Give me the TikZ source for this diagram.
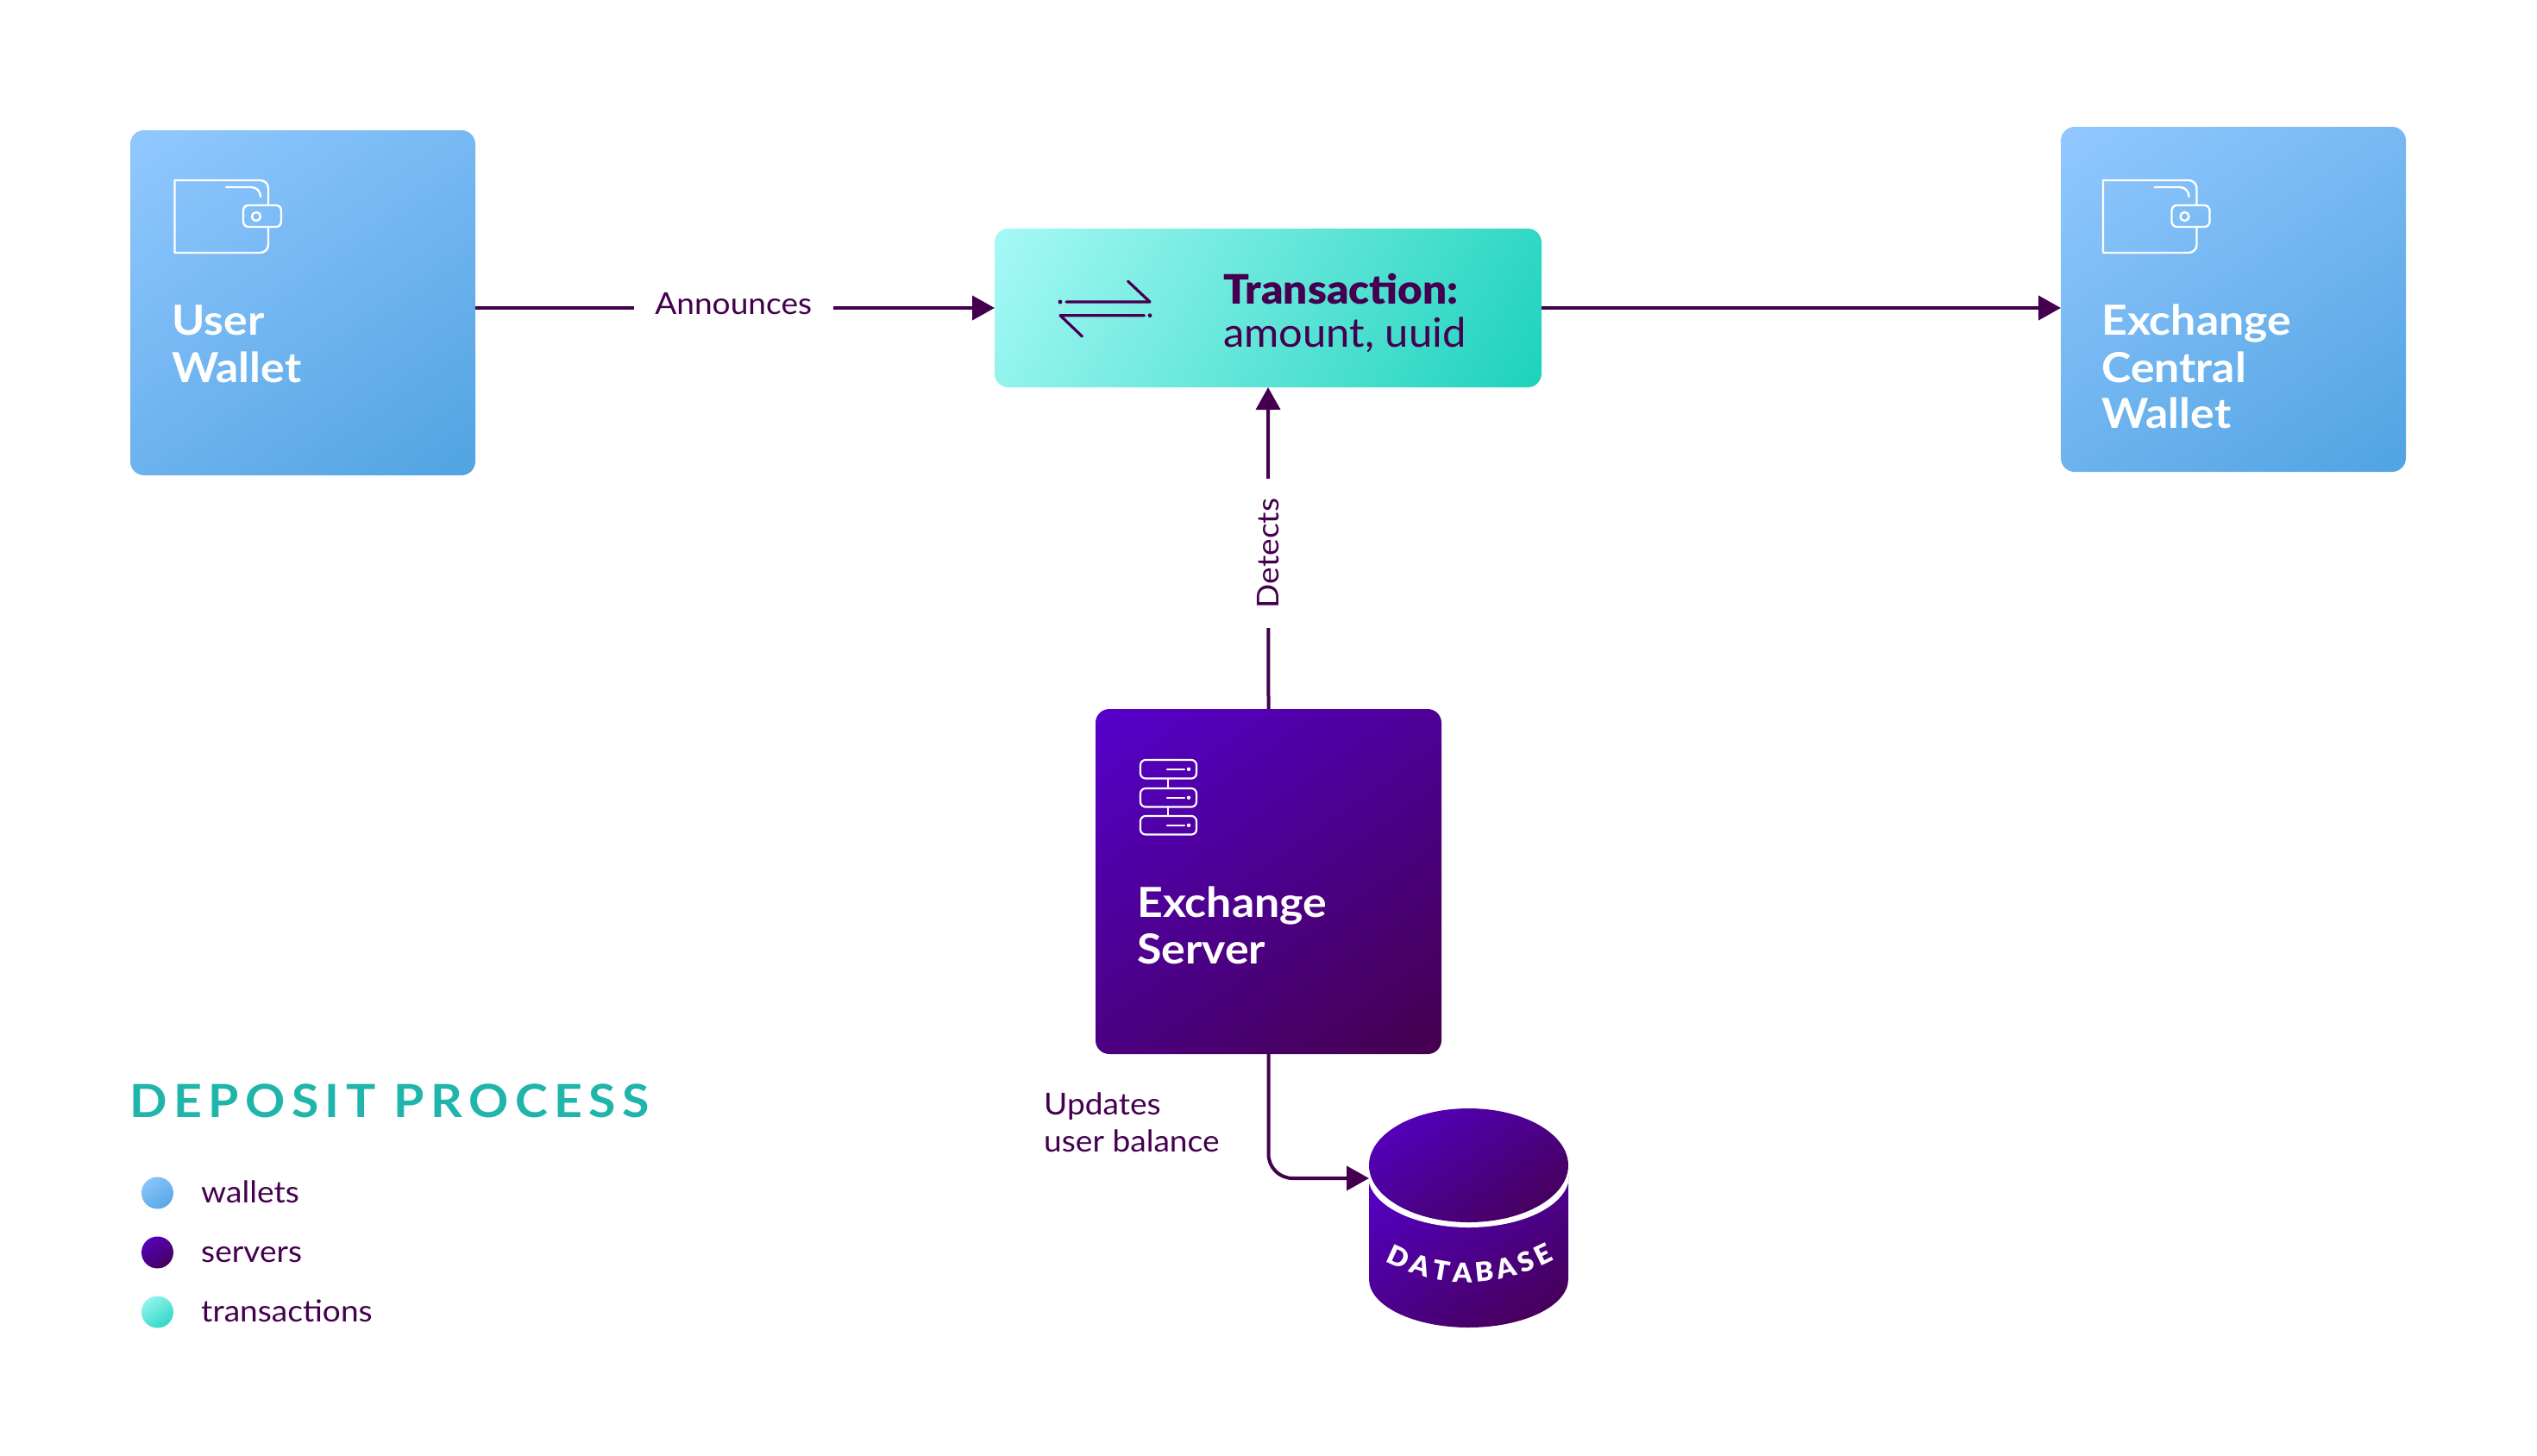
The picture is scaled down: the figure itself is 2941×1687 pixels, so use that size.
\documentclass[tikz,border=0pt]{standalone}
\usepackage{fontspec}
\setmainfont{Lato}
\usetikzlibrary{arrows.meta,decorations.text,calc,shapes.geometric}
\definecolor{ink}{HTML}{44004F}
\definecolor{teal}{HTML}{1FB5AB}
\definecolor{wa}{HTML}{92C8FF}
\definecolor{wb}{HTML}{50A3E2}
\definecolor{ta}{HTML}{A8F9F6}
\definecolor{tb}{HTML}{1BD2BB}
\definecolor{sa}{HTML}{5600CC}
\definecolor{sb}{HTML}{44004C}
\pgfdeclareverticalshading{gwallet}{100bp}{color(0bp)=(wb); color(15bp)=(wb); color(85bp)=(wa); color(100bp)=(wa)}
\pgfdeclareverticalshading{gtx}{100bp}{color(0bp)=(tb); color(15bp)=(tb); color(85bp)=(ta); color(100bp)=(ta)}
\pgfdeclareverticalshading{gsrv}{100bp}{color(0bp)=(sb); color(15bp)=(sb); color(85bp)=(sa); color(100bp)=(sa)}
\newfontfamily\dbfont[LetterSpace=2,FakeStretch=1.03]{Lato Black}
\newfontfamily\rgfont[FakeStretch=1.06]{Lato}
\newfontfamily\amfont[FakeStretch=1.04]{Lato}
\newfontfamily\hdfont[FakeStretch=1.08]{Lato}
\newfontfamily\txfont[FakeStretch=1.05]{Lato Black}
\newfontfamily\ttfont[FakeStretch=1.08,LetterSpace=14]{Lato}
\tikzset{
  box/.style={rectangle,rounded corners=16pt,inner sep=0pt,outer sep=0pt,draw=none},
  walletbox/.style={box,shade,shading=gwallet,shading angle=35,minimum width=400pt,minimum height=400pt},
  srvbox/.style={box,shade,shading=gsrv,shading angle=35,minimum width=401pt,minimum height=400pt},
  txbox/.style={box,shade,shading=gtx,shading angle=60,minimum width=634pt,minimum height=184pt},
  head/.style={inner sep=0pt,anchor=base west,align=left,font=\fontsize{48}{54}\hdfont\bfseries},
  lbl/.style={inner sep=0pt,text=ink,font=\fontsize{35}{43}\rgfont},
  conn/.style={draw=ink,line width=4pt,-{Triangle[length=26pt,width=28pt]}},
  iconw/.style={draw=white,line width=2.4pt,line cap=round,line join=round},
  icond/.style={draw=ink,line width=3.2pt,line cap=round,line join=round},
  walleticon/.pic={
    \draw[iconw] (108.5,29) -- (108.5,9) .. controls (108.5,4) and (104,0) .. (99,0) -- (0,0) -- (0,84) -- (99,84) .. controls (104,84) and (108.5,80) .. (108.5,75) -- (108.5,54);
    \draw[iconw] (59.5,8) -- (89,8) .. controls (95,8) and (99.5,13) .. (99.5,19);
    \draw[iconw,rounded corners=6pt] (79.5,29) rectangle (123.5,54);
    \draw[iconw] (94.5,42) circle (5pt);
  },
  dot/.style={circle,minimum size=37pt,inner sep=0pt,shade},
  x=1pt,y=-1pt
}
\begin{document}
\begin{tikzpicture}
\useasboundingbox (0,0) rectangle (2941,1687);
\fill[white] (0,0) rectangle (2941,1687);

% boxes
\node[walletbox] (uw) at (351,351) {};
\node[walletbox] (ew) at (2589,347) {};
\node[txbox] (tx) at (1470,357) {};
\node[srvbox] (srv) at (1470.5,1022) {};

% connectors
\coordinate (dbin) at (1587,1366);
\draw[conn] (uw.east |- tx.west) -- node[pos=0.497,fill=white,inner sep=0pt,minimum width=231pt,minimum height=20pt,text=ink,font=\fontsize{35}{43}\rgfont,yshift=5pt] (ann) {Announces} (tx.west);
\draw[conn] (tx.east) -- (ew.west |- tx.east);
\draw[conn] (srv.north) -- node[pos=0.484,rotate=90,fill=white,inner sep=0pt,minimum width=173pt,minimum height=20pt,text=ink,font=\fontsize{35}{43}\rgfont] (det) {Detects} (tx.south);

% database
\begin{scope}
\path[shade,shading=gsrv,shading angle=35] (1587,1363) -- (1818,1363) -- (1818,1483) .. controls (1818,1514) and (1766,1539) .. (1702.5,1539) .. controls (1639,1539) and (1587,1514) .. (1587,1483) -- cycle;
\clip (1587,1340) rectangle (1818,1440);
\fill[white] (1702.5,1363) ellipse [x radius=116.5pt,y radius=60pt];
\end{scope}
\node[shape=ellipse,minimum width=231pt,minimum height=132pt,inner sep=0pt,outer sep=0pt,shade,shading=gsrv,shading angle=35] (dbtop) at (1702.5,1351) {};
\path[decorate,decoration={text along path,text align=fit to path,text={|\fontsize{31}{31}\dbfont\color{white}|DATABASE}}] (1606,1462) .. controls (1670,1495) and (1735,1495) .. (1802,1460);
\draw[conn,rounded corners=28pt] (srv.south) |- (dbin);

% icons
\pic at (202.5,209) {walleticon};
\pic at (2438,209) {walleticon};
\foreach \yy in {881,914,946}{
  \draw[iconw,line width=2.2pt,rounded corners=6pt] (1322,\yy) rectangle (1387,\yy+21.5);
  \draw[iconw,line width=2.2pt] (1353,\yy+10.75) -- (1373,\yy+10.75);
  \fill[white] (1378,\yy+10.75) circle (2.2pt);
}
\draw[iconw,line width=2.2pt] (1354.3,903) -- (1354.3,914) (1354.3,935.5) -- (1354.3,946);
\draw[icond] (1236,350) -- (1333,350) -- (1307.5,326);
\draw[icond] (1254.5,390) -- (1229,365.7) -- (1326.5,365.7);
\fill[ink] (1229,350) circle (2.4pt) (1333,365.7) circle (2.4pt);

% box texts
\node[head,text=white] (uwt) at (199,388.5) {User};
\node[head,text=white] (uwt2) at (199,443) {Wallet};
\node[head,text=white] (ewt) at (2436,388.5) {Exchange};
\node[head,text=white] (ewt2) at (2436,443) {Central};
\node[head,text=white] (ewt3) at (2436,496.5) {Wallet};
\node[head,text=white] (st) at (1318,1063.5) {Exchange};
\node[head,text=white] (st2) at (1318,1117) {Server};
\node[head,text=ink,font=\fontsize{47}{54}\txfont] (txt) at (1418,352) {Transaction:};
\node[head,text=ink,font=\fontsize{47}{54}\amfont] (txt2) at (1418,402) {amount, uuid};

% labels
\node[lbl,anchor=base west] (up) at (1210,1292) {Updates};
\node[lbl,anchor=base west] (up2) at (1210,1335) {user balance};

% legend
\node[inner sep=0pt,anchor=base west,text=teal,font=\fontsize{53}{60}\ttfont\bfseries] (title) at (150,1295) {DEPOSIT PROCESS};
\node[dot,shading=gwallet,shading angle=35] (d1) at (182.5,1383) {};
\node[dot,shading=gsrv,shading angle=35] (d2) at (182.5,1452) {};
\node[dot,shading=gtx,shading angle=35] (d3) at (182.5,1521) {};
\node[lbl,anchor=base west] (l1) at (233,1394) {wallets};
\node[lbl,anchor=base west] (l2) at (233,1463) {servers};
\node[lbl,anchor=base west] (l3) at (233,1532) {transactions};
\end{tikzpicture}
\end{document}
